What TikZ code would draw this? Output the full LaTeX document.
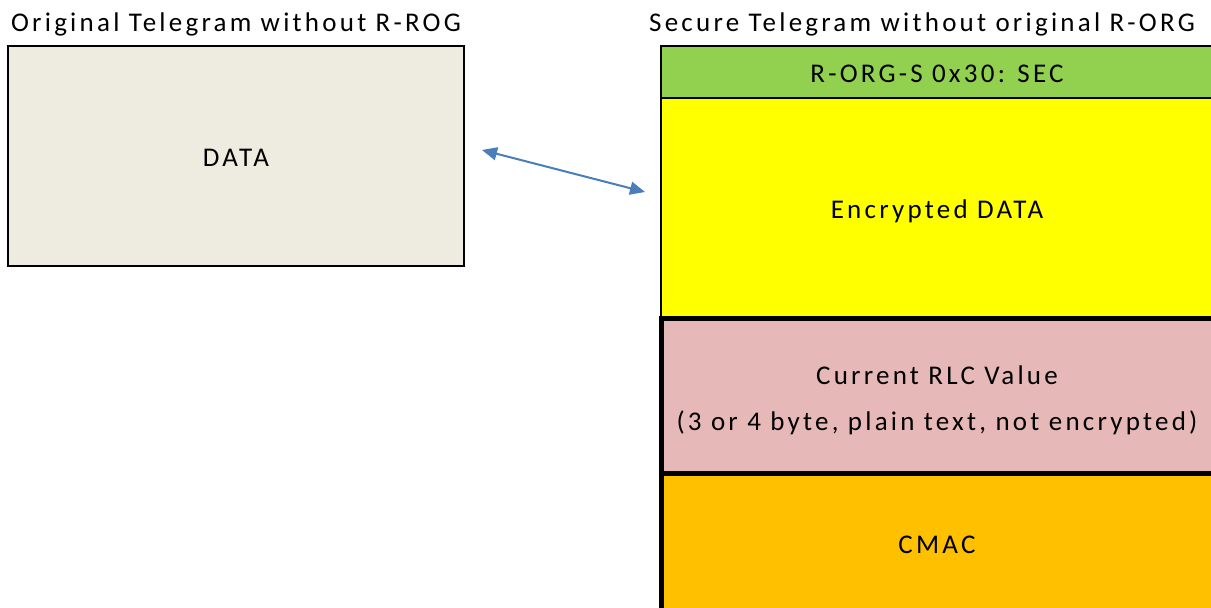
\documentclass[tikz,border=0pt]{standalone}
\usepackage{fontspec}
\setmainfont{Carlito}[LetterSpace=12]
\usepackage{tikz}
\usetikzlibrary{positioning}
\usetikzlibrary{arrows.meta}

\definecolor{paper}{HTML}{EEECE1}
\definecolor{secgreen}{HTML}{92D050}
\definecolor{encyellow}{HTML}{FFFF00}
\definecolor{rlcpink}{HTML}{E6B9B8}
\definecolor{cmacorange}{HTML}{FFC000}
\definecolor{arrowblue}{HTML}{4A7EBB}

\begin{document}
\begin{tikzpicture}[x=1bp, y=-1bp,
        box/.style={draw=black, line width=2.5bp, inner sep=0pt, outer sep=0pt, align=center, text height=21bp, text depth=0pt, font=\fontsize{27bp}{46bp}\selectfont},
        field/.style={box, minimum width=552bp},
        thickfield/.style={field, line width=5bp},
        title/.style={inner sep=0pt, font=\fontsize{27bp}{32bp}\selectfont}]
            \useasboundingbox (0,0) rectangle (1211,608);
            \clip (0,0) rectangle (1211,608);

            \node[box, fill=paper, minimum width=456bp, minimum height=220bp] (data) at (236,156) {DATA};
            \node[title, above=14bp of data.north, anchor=base] (origtitle) {Original Telegram without R-ROG};

            \node[field, fill=secgreen, minimum height=52bp] (hdr) at (937,72) {R-ORG-S 0x30: SEC};
            \node[field, below=0pt of hdr, fill=encyellow, minimum height=220bp] (enc) {Encrypted DATA};
            \node[thickfield, below=0pt of enc, fill=rlcpink, minimum height=155bp, text height=72bp, text depth=3bp] (rlc) {Current RLC Value\\(3 or 4 byte, plain text, not encrypted)};
            \node[thickfield, below=0pt of rlc, fill=cmacorange, minimum height=140bp] (cmac) {CMAC};
            \node[title, anchor=base] (sectitle) at (922,32) {Secure Telegram without original R-ORG};

            \draw[arrowblue, line width=2bp, {Triangle[length=15bp,width=13bp]}-{Triangle[length=15bp,width=13bp]}]
                ([shift={(18bp,6bp)}]data.east) -- ([shift={(-16bp,16bp)}]enc.west);
        \end{tikzpicture}
\end{document}
